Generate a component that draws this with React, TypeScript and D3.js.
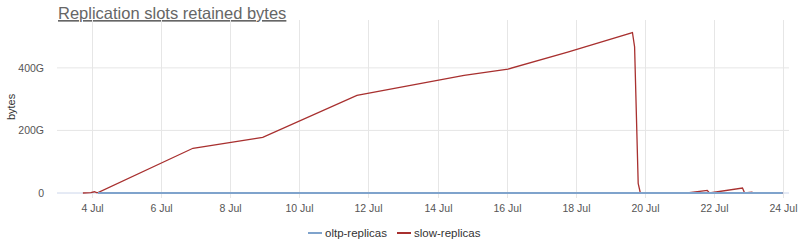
import React from "react";
import * as d3 from "d3";

const slowTimes = [
  "2017-07-03T17:30", "2017-07-03T23:00", "2017-07-04T01:30", "2017-07-04T03:00", "2017-07-04T04:00",
  "2017-07-06T22:00", "2017-07-08T22:30", "2017-07-11T16:00", "2017-07-14T18:30", "2017-07-16T01:00",
  "2017-07-17T18:30", "2017-07-19T15:30", "2017-07-19T17:00", "2017-07-19T19:30", "2017-07-19T21:00",
  "2017-07-21T05:30", "2017-07-21T19:30", "2017-07-21T21:00", "2017-07-22T20:00", "2017-07-22T21:30",
  "2017-07-23T02:30", "2017-07-23T04:00", "2017-07-24T00:00",
];
const slowValues = [
  0, 1, 4, 1, 1,
  143, 178, 312, 376, 396,
  450, 513, 467, 31, 0,
  0, 8.5, 0, 16, 0,
  3, 0, 0,
];
const oltpTimes = ["2017-07-04T04:00", "2017-07-24T00:00"];
const oltpValues = [0, 0];

const yTicks = [0, 200, 400];
const yTickLabels = ["0", "200G", "400G"];
const xTickDates = ["2017-07-04", "2017-07-06", "2017-07-08", "2017-07-10", "2017-07-12", "2017-07-14",
  "2017-07-16", "2017-07-18", "2017-07-20", "2017-07-22", "2017-07-24"];

const seriesNames = ["oltp-replicas", "slow-replicas"];
const seriesColors = ["#7fa3cc", "#a8302f"];

export default function App() {
  const W = 800, H = 246;
  const x = d3.scaleTime()
    .domain([new Date("2017-07-02T23:30"), new Date("2017-07-24T04:20")])
    .range([57, 789]);
  const y = d3.scaleLinear().domain([0, 553]).range([193, 20]);
  const line = d3.line<[Date, number]>().x(d => x(d[0])).y(d => y(d[1]));
  const slow = slowTimes.map((t, i) => [new Date(t), slowValues[i]] as [Date, number]);
  const oltp = oltpTimes.map((t, i) => [new Date(t), oltpValues[i]] as [Date, number]);
  const fmt = d3.timeFormat("%-d %b");
  const font = "'Liberation Sans', Arial, sans-serif";

  return (
    <svg width={W} height={H} style={{ position: "absolute", left: 0, top: 0 }} fontFamily={font}>
      <rect width={W} height={H} fill="#fff" />
      <text x={58} y={19} fontSize={16.5} fill="#666" textDecoration="underline">Replication slots retained bytes</text>
      {yTicks.map((v, i) => (
        <g key={"y" + i}>
          {i > 0 && <line x1={57} x2={789} y1={y(v)} y2={y(v)} stroke="#e6e6e6" />}
          <text x={44} y={y(v) + 4} fontSize={10.5} fill="#555" textAnchor="end">{yTickLabels[i]}</text>
        </g>
      ))}
      {xTickDates.map((d, i) => {
        const xx = Math.round(x(new Date(d + "T00:00"))) + 0.5;
        return (
          <g key={"x" + i}>
            <line x1={xx} x2={xx} y1={20} y2={198} stroke="#e6e6e6" />
            <text x={xx} y={212} fontSize={10.5} fill="#555" textAnchor="middle">{fmt(new Date(d + "T00:00"))}</text>
          </g>
        );
      })}
      <line x1={57} x2={789} y1={193} y2={193} stroke="#ccd6eb" />
      <text transform={`translate(15,${y(275)}) rotate(-90)`} fontSize={11} fill="#333" textAnchor="middle">bytes</text>
      <path d={line(slow) || ""} fill="none" stroke={seriesColors[1]} strokeWidth={1.3} />
      <path d={line(oltp) || ""} fill="none" stroke={seriesColors[0]} strokeWidth={2} />
      <g fontSize={11.5} fill="#333">
        <line x1={308} x2={322} y1={233} y2={233} stroke={seriesColors[0]} strokeWidth={2} />
        <text x={325} y={237}>{seriesNames[0]}</text>
        <line x1={397} x2={411} y1={233} y2={233} stroke={seriesColors[1]} strokeWidth={2} />
        <text x={414} y={237}>{seriesNames[1]}</text>
      </g>
    </svg>
  );
}
